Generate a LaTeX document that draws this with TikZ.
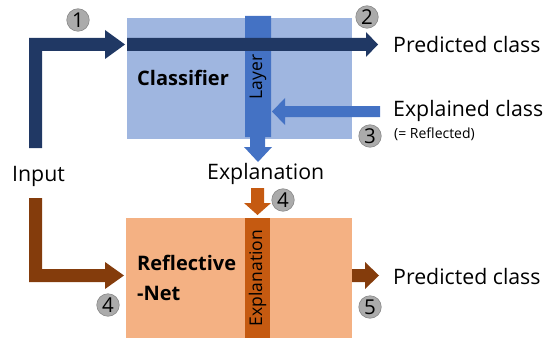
\documentclass[tikz,border=0pt]{standalone}
\usepackage{fontspec}
\setmainfont{Open Sans}
\definecolor{clsbox}{HTML}{9FB6E0}
\definecolor{navy}{HTML}{203864}
\definecolor{layerblue}{HTML}{4472C4}
\definecolor{refbox}{HTML}{F4B183}
\definecolor{refbar}{HTML}{C55A11}
\definecolor{brown}{HTML}{843C0C}
\definecolor{numgrey}{HTML}{ABABAB}
\begin{document}
\begin{tikzpicture}[x=1pt,y=-1pt,
  lbl/.style={anchor=base west,inner sep=0,font=\fontsize{21.3}{23}\selectfont},
  boldlbl/.style={anchor=base west,inner sep=0,font=\fontsize{20}{22}\selectfont\bfseries},
  num/.style={circle,fill=numgrey,draw=numgrey!80!black,line width=0.6pt,minimum size=22.5pt,inner sep=0,font=\fontsize{20.5}{20.5}\selectfont},
  rottext/.style={rotate=90,inner sep=0,font=\fontsize{17.5}{17.5}\selectfont}]
\useasboundingbox (0,0) rectangle (545,342);
% Classifier box
\node[fill=clsbox,minimum width=225pt,minimum height=121pt,inner sep=0] (cls) at (239.5,78.5) {};
% Reflective box
\node[fill=refbox,minimum width=226pt,minimum height=120pt,inner sep=0] (ref) at (239,278) {};
% Layer bar with down arrow
\fill[layerblue] (245,16) -- (271,16) -- (271,137) -- (265,137) -- (265,147) -- (272,147) -- (258,162) -- (244,147) -- (250,147) -- (250,137) -- (245,137) -- cycle;
\node[rottext] (layer) at (258,77) {Layer};
% Navy inner arrow
\fill[navy] (127,38) -- (366,38) -- (366,32) -- (378,44.5) -- (366,57) -- (366,51) -- (127,51) -- cycle;
% Navy input arrow
\fill[navy] (29,148) -- (29,38) -- (105,38) -- (105,30) -- (125,44.5) -- (105,59) -- (105,51) -- (42,51) -- (42,148) -- cycle;
% Explained class arrow
\fill[layerblue] (380,106) -- (285,106) -- (285,98) -- (272,111.5) -- (285,125) -- (285,117) -- (380,117) -- cycle;
% Orange explanation bar
\fill[refbar] (245,218) rectangle (270,338);
\node[rottext] (explbar) at (257.5,278) {Explanation};
% Orange down arrow
\fill[refbar] (251,188) -- (264,188) -- (264,203) -- (271,203) -- (257.5,215) -- (244,203) -- (251,203) -- cycle;
% Brown input arrow
\fill[brown] (29,198) -- (42,198) -- (42,269) -- (105,269) -- (105,262) -- (124,275.5) -- (105,289) -- (105,282) -- (29,282) -- cycle;
% Brown output arrow
\fill[brown] (352,269) -- (365,269) -- (365,262) -- (379,275.5) -- (365,289) -- (365,282) -- (352,282) -- cycle;
% Labels
\node[boldlbl] (clslbl) at (137,86) {Classifier};
\node[boldlbl] (reflbl) at (137,270) {Reflective};
\node[boldlbl] (netlbl) at (137,300) {-Net};
\node[lbl] (pred1) at (393,53) {Predicted class};
\node[lbl] (expcls) at (393,117) {Explained class};
\node[anchor=base west,inner sep=0,font=\fontsize{14}{15}\selectfont] (refl) at (394,138) {(= Reflected)};
\node[lbl] (input) at (12,181) {Input};
\node[lbl] (expl) at (207,179) {Explanation};
\node[lbl] (pred2) at (393,284) {Predicted class};
% Numbers
\node[num] (n1) at (78,20) {1};
\node[num] (n2) at (367,17) {2};
\node[num] (n3) at (370,136) {3};
\node[num] (n4a) at (283,200) {4};
\node[num] (n4b) at (108,305) {4};
\node[num] (n5) at (370,307) {5};
\end{tikzpicture}
\end{document}
